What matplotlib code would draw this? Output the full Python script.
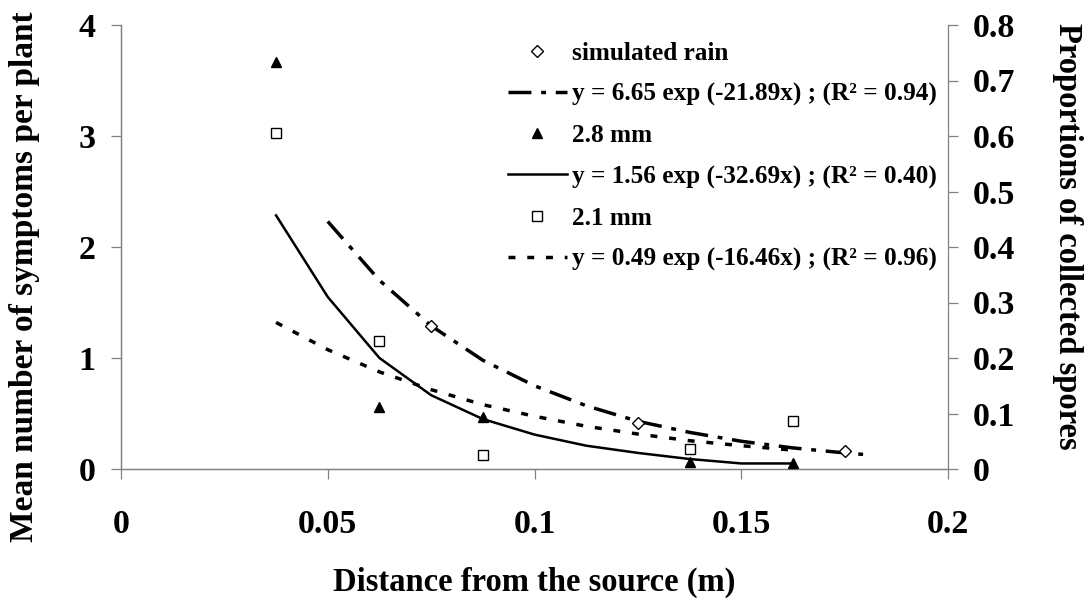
import numpy as np
import matplotlib.pyplot as plt
from matplotlib.lines import Line2D

plt.rcParams['font.family'] = ['Liberation Serif', 'DejaVu Serif']
plt.rcParams['font.weight'] = 'bold'
plt.rcParams['lines.scale_dashes'] = False

# observed points
rain_x = [0.075, 0.125, 0.175]
rain_y = [1.29, 0.41, 0.165]          # left axis
mm28_x = [0.0375, 0.0625, 0.0875, 0.1375, 0.1625]
mm28_y = [0.734, 0.112, 0.094, 0.013, 0.010]   # right axis
mm21_x = [0.0375, 0.0625, 0.0875, 0.1375, 0.1625]
mm21_y = [0.606, 0.231, 0.025, 0.036, 0.087]   # right axis

# fitted curves
rain_fit_x = [0.05, 0.0625, 0.075, 0.0875, 0.1, 0.1125, 0.125, 0.1375, 0.15, 0.1625, 0.175, 0.18]
rain_fit_y = [2.23, 1.70, 1.29, 0.98, 0.75, 0.57, 0.43, 0.33, 0.25, 0.19, 0.145, 0.13]
mm28_fit_x = [0.0375, 0.05, 0.0625, 0.075, 0.0875, 0.1, 0.1125, 0.125, 0.1375, 0.15, 0.1625]
mm28_fit_y = [0.457, 0.31, 0.20, 0.133, 0.090, 0.062, 0.042, 0.029, 0.018, 0.010, 0.010]
mm21_fit_x = [0.0375, 0.05, 0.0625, 0.075, 0.0875, 0.1, 0.1125, 0.125, 0.1375, 0.15, 0.1625]
mm21_fit_y = [0.264, 0.215, 0.175, 0.143, 0.116, 0.095, 0.077, 0.063, 0.051, 0.042, 0.034]

labels = ['simulated rain', 'y = 6.65 exp (-21.89x) ; (R² = 0.94)',
          '2.8 mm', 'y = 1.56 exp (-32.69x) ; (R² = 0.40)',
          '2.1 mm', 'y = 0.49 exp (-16.46x) ; (R² = 0.96)']
xticks = [0, 0.05, 0.1, 0.15, 0.2]
xticklabels = ['0', '0.05', '0.1', '0.15', '0.2']
yticks = [0, 1, 2, 3, 4]
y2ticks = [0, 0.1, 0.2, 0.3, 0.4, 0.5, 0.6, 0.7, 0.8]
y2ticklabels = ['0', '0.1', '0.2', '0.3', '0.4', '0.5', '0.6', '0.7', '0.8']

W, H = 1085, 601
fig = plt.figure(figsize=(W / 100, H / 100), dpi=100)
ax = fig.add_axes([121 / W, 1 - 469 / H, 827 / W, 444 / H])
ax2 = ax.twinx()

gray = '#808080'
dashdot = (0, (16.5, 7, 3.5, 7))
dotted = (0, (5, 8.5))

ax.plot(rain_x, rain_y, 'D', ms=6, mfc='white', mec='black', mew=1.0, zorder=3)
ax.plot(rain_fit_x, rain_fit_y, color='black', lw=2.5, linestyle=dashdot)
ax2.plot(mm28_x, mm28_y, '^', ms=7, color='black', zorder=3)
ax2.plot(mm28_fit_x, mm28_fit_y, color='black', lw=1.8, linestyle='-')
ax2.plot(mm21_x, mm21_y, 's', ms=6.5, mfc='white', mec='black', mew=1.0, zorder=3)
ax2.plot(mm21_fit_x, mm21_fit_y, color='black', lw=2.5, linestyle=dotted)

ax.set_xlim(0, 0.2)
ax.set_ylim(0, 4)
ax2.set_ylim(0, 0.8)
ax.set_xticks(xticks)
ax.set_xticklabels(xticklabels)
ax.set_yticks(yticks)
ax2.set_yticks(y2ticks)
ax2.set_yticklabels(y2ticklabels)

for a in (ax, ax2):
    a.spines['top'].set_visible(False)
    for s in a.spines.values():
        s.set_color(gray)
        s.set_linewidth(0.9)
ax.spines['right'].set_visible(False)
ax.tick_params(axis='x', direction='out', length=7.5, width=0.9, color=gray, pad=21, labelsize=24.5)
ax.tick_params(axis='y', direction='out', length=7.5, width=0.9, color=gray, pad=11, labelsize=24.5)
ax2.tick_params(axis='y', direction='out', length=7.5, width=0.9, color=gray, pad=10, labelsize=24.5)

fig.text(25 / W, 1 - 277 / H, 'Mean number of symptoms per plant', rotation=90,
         ha='center', va='center', fontsize=24, fontweight='bold')
fig.text(1068 / W, 1 - 236 / H, 'Proportions of collected spores', rotation=-90,
         ha='center', va='center', fontsize=23.5, fontweight='bold')
fig.text(534 / W, 1 - 582 / H, 'Distance from the source (m)',
         ha='center', va='center', fontsize=23.5, fontweight='bold')

handles = [
    Line2D([], [], marker='D', ms=6, mfc='white', mec='black', mew=1.0, linestyle='None'),
    Line2D([], [], color='black', lw=2.5, linestyle=dashdot),
    Line2D([], [], marker='^', ms=7, color='black', linestyle='None'),
    Line2D([], [], color='black', lw=1.8, linestyle='-'),
    Line2D([], [], marker='s', ms=6.5, mfc='white', mec='black', mew=1.0, linestyle='None'),
    Line2D([], [], color='black', lw=2.5, linestyle=dotted),
]
leg = ax2.legend(handles, labels, loc='upper left', bbox_to_anchor=(508 / W, 1 - 42 / H),
                 bbox_transform=fig.transFigure, frameon=False, borderpad=0, borderaxespad=0,
                 fontsize=18.2, handlelength=2.33, handletextpad=0.2, labelspacing=0.71, numpoints=1)

fig.savefig('out.png', dpi=100)
